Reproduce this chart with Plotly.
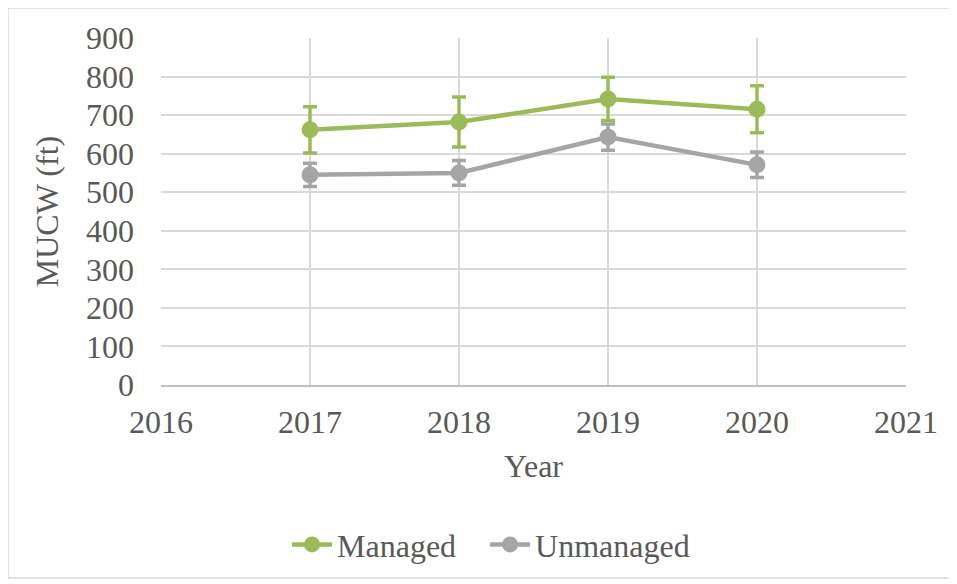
import plotly.graph_objects as go

# values
years = [2017, 2018, 2019, 2020]
managed = [662, 682, 742, 715]
managed_err = [60, 65, 56, 61]
unmanaged = [545, 550, 643, 571]
unmanaged_err = [30, 32, 34, 33]

x_ticks = [2016, 2017, 2018, 2019, 2020, 2021]
y_ticks = [0, 100, 200, 300, 400, 500, 600, 700, 800, 900]

green = '#9BBB59'
grey = '#A5A5A5'
text_col = '#595959'
font = 'Liberation Serif'

fig = go.Figure()

# nbsp after the first name to open up the gap between legend items
for name, vals, err, col in [('Managed\u00a0\u00a0\u00a0', managed, managed_err, green),
                             ('Unmanaged', unmanaged, unmanaged_err, grey)]:
    fig.add_trace(go.Scatter(
        x=years, y=vals, name=name, mode='lines+markers',
        line=dict(color=col, width=4.5),
        marker=dict(color=col, size=17),
        error_y=dict(type='data', array=err, visible=True, color=col,
                     thickness=3.5, width=7),
    ))

# page body has an 8px margin, so the figure is a bit smaller than the window
fig.update_layout(
    width=949, height=576,
    margin=dict(l=153, r=51, t=30, b=199),
    paper_bgcolor='white', plot_bgcolor='white',
    font=dict(family=font, size=32, color=text_col),
    showlegend=True,
    legend=dict(orientation='h', x=0.443, xanchor='center', y=-0.46, yanchor='middle',
                font=dict(family=font, size=32, color=text_col), itemwidth=40),
    shapes=[dict(type='rect', xref='paper', yref='paper',
                 x0=-0.2054, x1=1.059, y0=-0.556, y1=1.0865,
                 line=dict(color='#D9D9D9', width=1.5), layer='below')],
)

fig.update_xaxes(
    range=[2016, 2021], tickvals=x_ticks, ticktext=[str(v) for v in x_ticks],
    showgrid=True, gridcolor='#D9D9D9', gridwidth=2,
    showline=True, linecolor='#BFBFBF', linewidth=2,
    ticks='', ticklabelstandoff=8, zeroline=False,
    tickfont=dict(family=font, size=32, color=text_col),
    title=dict(text='Year', standoff=15, font=dict(family=font, size=32, color=text_col)),
)
fig.update_yaxes(
    range=[0, 900], tickvals=y_ticks,
    showgrid=True, gridcolor='#D9D9D9', gridwidth=2,
    showline=False, ticks='', ticklabelstandoff=26, zeroline=False,
    tickfont=dict(family=font, size=32, color=text_col),
    title=dict(text='MUCW (ft)', standoff=17, font=dict(family=font, size=32, color=text_col)),
)

fig.write_html('out.html')
